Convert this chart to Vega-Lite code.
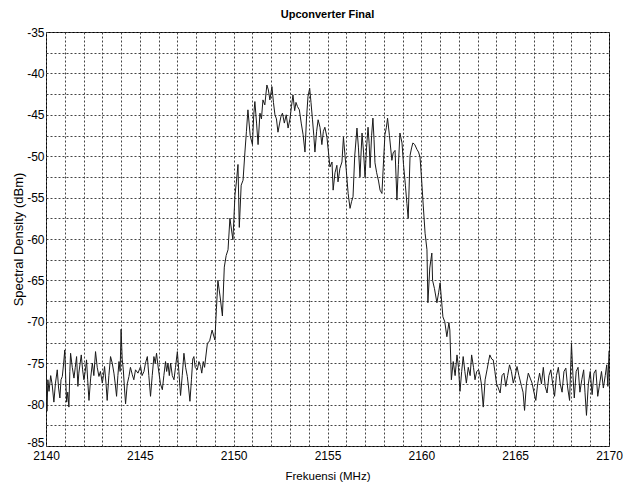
{
  "$schema": "https://vega.github.io/schema/vega-lite/v6.json",
  "autosize": {"type": "none"},
  "width": 563,
  "height": 414,
  "padding": {"left": 46, "top": 32, "right": 21, "bottom": 37},
  "background": "white",
  "config": {
    "view": {"stroke": "#000", "strokeWidth": 1},
    "font": "Liberation Sans, Arial, sans-serif"
  },
  "title": {
    "text": "Upconverter Final",
    "fontSize": 11,
    "fontWeight": "bold",
    "font": "Liberation Sans, Arial, sans-serif",
    "color": "#000",
    "anchor": "middle",
    "offset": 6
  },
  "data": {
    "values": [
      {"f": 2140.0, "p": -75.5}, {"f": 2140.05, "p": -80.8}, {"f": 2140.1, "p": -77}, {"f": 2140.16, "p": -78.4},
      {"f": 2140.25, "p": -76.5}, {"f": 2140.33, "p": -77.6}, {"f": 2140.42, "p": -79.7}, {"f": 2140.5, "p": -77.5},
      {"f": 2140.6, "p": -75.8}, {"f": 2140.67, "p": -78}, {"f": 2140.74, "p": -79.2}, {"f": 2140.8, "p": -77},
      {"f": 2140.87, "p": -76.6}, {"f": 2140.94, "p": -75}, {"f": 2141.0, "p": -73.4}, {"f": 2141.06, "p": -77.5},
      {"f": 2141.1, "p": -79.7}, {"f": 2141.16, "p": -78.5}, {"f": 2141.22, "p": -80.3}, {"f": 2141.27, "p": -76},
      {"f": 2141.31, "p": -73.8}, {"f": 2141.4, "p": -75.5}, {"f": 2141.49, "p": -76.8}, {"f": 2141.56, "p": -75.5},
      {"f": 2141.63, "p": -74.2}, {"f": 2141.7, "p": -77.8}, {"f": 2141.75, "p": -76.2}, {"f": 2141.82, "p": -75},
      {"f": 2141.88, "p": -74}, {"f": 2141.95, "p": -75.8}, {"f": 2142.02, "p": -77}, {"f": 2142.09, "p": -76},
      {"f": 2142.16, "p": -74.6}, {"f": 2142.22, "p": -77}, {"f": 2142.29, "p": -79.5}, {"f": 2142.38, "p": -76.8},
      {"f": 2142.47, "p": -75}, {"f": 2142.55, "p": -76.5}, {"f": 2142.64, "p": -73.6}, {"f": 2142.73, "p": -75.5},
      {"f": 2142.82, "p": -76.6}, {"f": 2142.9, "p": -76}, {"f": 2143.0, "p": -77.4}, {"f": 2143.06, "p": -76.5},
      {"f": 2143.12, "p": -75.4}, {"f": 2143.2, "p": -77.5}, {"f": 2143.26, "p": -79.5}, {"f": 2143.35, "p": -76.5},
      {"f": 2143.44, "p": -74.2}, {"f": 2143.53, "p": -75}, {"f": 2143.62, "p": -76.2}, {"f": 2143.69, "p": -77.5},
      {"f": 2143.76, "p": -79}, {"f": 2143.83, "p": -76.5}, {"f": 2143.89, "p": -74.8}, {"f": 2143.95, "p": -76},
      {"f": 2144.0, "p": -70.9}, {"f": 2144.06, "p": -74.5}, {"f": 2144.12, "p": -75.8}, {"f": 2144.18, "p": -78},
      {"f": 2144.24, "p": -79.9}, {"f": 2144.33, "p": -77.5}, {"f": 2144.42, "p": -76.6}, {"f": 2144.5, "p": -75.5},
      {"f": 2144.6, "p": -76.4}, {"f": 2144.68, "p": -77}, {"f": 2144.77, "p": -75.8}, {"f": 2144.9, "p": -76.2},
      {"f": 2145.04, "p": -75.4}, {"f": 2145.12, "p": -76.5}, {"f": 2145.22, "p": -76}, {"f": 2145.3, "p": -75},
      {"f": 2145.4, "p": -74.2}, {"f": 2145.48, "p": -76.5}, {"f": 2145.57, "p": -79}, {"f": 2145.66, "p": -76.5},
      {"f": 2145.75, "p": -74.2}, {"f": 2145.82, "p": -75}, {"f": 2145.89, "p": -73.8}, {"f": 2145.95, "p": -75},
      {"f": 2146.02, "p": -76.2}, {"f": 2146.1, "p": -77.5}, {"f": 2146.2, "p": -78.2}, {"f": 2146.28, "p": -76.5},
      {"f": 2146.37, "p": -74.8}, {"f": 2146.43, "p": -76}, {"f": 2146.5, "p": -75}, {"f": 2146.57, "p": -76.5},
      {"f": 2146.64, "p": -75}, {"f": 2146.73, "p": -76.5}, {"f": 2146.82, "p": -77}, {"f": 2146.9, "p": -75.5},
      {"f": 2147.0, "p": -73.6}, {"f": 2147.08, "p": -76}, {"f": 2147.17, "p": -78.9}, {"f": 2147.26, "p": -76.5},
      {"f": 2147.35, "p": -73.8}, {"f": 2147.44, "p": -75.5}, {"f": 2147.53, "p": -76.6}, {"f": 2147.6, "p": -78},
      {"f": 2147.67, "p": -79.6}, {"f": 2147.75, "p": -77}, {"f": 2147.82, "p": -74.5}, {"f": 2147.88, "p": -74.2},
      {"f": 2147.95, "p": -75.5}, {"f": 2148.06, "p": -75.8}, {"f": 2148.15, "p": -74.8}, {"f": 2148.24, "p": -75.4},
      {"f": 2148.3, "p": -76.2}, {"f": 2148.38, "p": -74.8}, {"f": 2148.45, "p": -75.5}, {"f": 2148.5, "p": -74.5},
      {"f": 2148.6, "p": -72.6}, {"f": 2148.72, "p": -72.3}, {"f": 2148.85, "p": -71}, {"f": 2149.0, "p": -72.2},
      {"f": 2149.08, "p": -68.5}, {"f": 2149.16, "p": -65}, {"f": 2149.28, "p": -67}, {"f": 2149.4, "p": -69.3},
      {"f": 2149.5, "p": -63.4}, {"f": 2149.6, "p": -62}, {"f": 2149.7, "p": -61.3}, {"f": 2149.8, "p": -57.5},
      {"f": 2149.88, "p": -58.8}, {"f": 2149.96, "p": -60.1}, {"f": 2150.07, "p": -54.7}, {"f": 2150.15, "p": -53},
      {"f": 2150.23, "p": -51}, {"f": 2150.3, "p": -58.6}, {"f": 2150.4, "p": -53.5}, {"f": 2150.5, "p": -52.9},
      {"f": 2150.6, "p": -49.5}, {"f": 2150.68, "p": -47}, {"f": 2150.76, "p": -44.4}, {"f": 2150.88, "p": -47.5},
      {"f": 2151.0, "p": -48.6}, {"f": 2151.07, "p": -45}, {"f": 2151.13, "p": -43.4}, {"f": 2151.22, "p": -46},
      {"f": 2151.3, "p": -48.6}, {"f": 2151.4, "p": -44.8}, {"f": 2151.48, "p": -45.5}, {"f": 2151.56, "p": -43.2},
      {"f": 2151.66, "p": -43.8}, {"f": 2151.77, "p": -41.4}, {"f": 2151.85, "p": -42}, {"f": 2151.93, "p": -43.2},
      {"f": 2152.04, "p": -41.6}, {"f": 2152.12, "p": -43.5}, {"f": 2152.2, "p": -45}, {"f": 2152.28, "p": -45.5},
      {"f": 2152.36, "p": -47.1}, {"f": 2152.45, "p": -46}, {"f": 2152.52, "p": -45.2}, {"f": 2152.6, "p": -44.8},
      {"f": 2152.7, "p": -46}, {"f": 2152.8, "p": -45}, {"f": 2152.9, "p": -46.6}, {"f": 2153.0, "p": -45.5},
      {"f": 2153.08, "p": -44}, {"f": 2153.16, "p": -42.6}, {"f": 2153.25, "p": -44.5}, {"f": 2153.32, "p": -43.5},
      {"f": 2153.4, "p": -44}, {"f": 2153.5, "p": -44.4}, {"f": 2153.6, "p": -46}, {"f": 2153.7, "p": -47.4},
      {"f": 2153.8, "p": -49.5}, {"f": 2153.88, "p": -45.5}, {"f": 2153.96, "p": -42.8}, {"f": 2154.05, "p": -41.8},
      {"f": 2154.12, "p": -43.5}, {"f": 2154.2, "p": -45.6}, {"f": 2154.27, "p": -47.5}, {"f": 2154.33, "p": -49.5},
      {"f": 2154.42, "p": -47}, {"f": 2154.5, "p": -45.6}, {"f": 2154.6, "p": -46.5}, {"f": 2154.7, "p": -48.6},
      {"f": 2154.78, "p": -47}, {"f": 2154.86, "p": -46.5}, {"f": 2154.97, "p": -47.7}, {"f": 2155.05, "p": -49.5},
      {"f": 2155.13, "p": -51.3}, {"f": 2155.24, "p": -50.7}, {"f": 2155.3, "p": -54.1}, {"f": 2155.4, "p": -52},
      {"f": 2155.5, "p": -51.1}, {"f": 2155.56, "p": -53.1}, {"f": 2155.66, "p": -51.5}, {"f": 2155.77, "p": -50.7},
      {"f": 2155.85, "p": -47.7}, {"f": 2156.0, "p": -51.7}, {"f": 2156.1, "p": -54.5}, {"f": 2156.2, "p": -56.3},
      {"f": 2156.28, "p": -55.5}, {"f": 2156.36, "p": -54.9}, {"f": 2156.45, "p": -50}, {"f": 2156.57, "p": -46.6},
      {"f": 2156.65, "p": -49}, {"f": 2156.73, "p": -52.5}, {"f": 2156.84, "p": -47.2}, {"f": 2156.92, "p": -49.5},
      {"f": 2157.0, "p": -52.5}, {"f": 2157.08, "p": -49}, {"f": 2157.16, "p": -46.5}, {"f": 2157.22, "p": -48.5},
      {"f": 2157.27, "p": -51.4}, {"f": 2157.35, "p": -47.5}, {"f": 2157.42, "p": -45.4}, {"f": 2157.48, "p": -48},
      {"f": 2157.53, "p": -50.8}, {"f": 2157.62, "p": -52}, {"f": 2157.72, "p": -53}, {"f": 2157.8, "p": -54.1},
      {"f": 2157.9, "p": -54.5}, {"f": 2158.0, "p": -50}, {"f": 2158.06, "p": -47.4}, {"f": 2158.14, "p": -46.5},
      {"f": 2158.2, "p": -45.4}, {"f": 2158.3, "p": -47.5}, {"f": 2158.43, "p": -50.5}, {"f": 2158.5, "p": -49.6},
      {"f": 2158.6, "p": -49.3}, {"f": 2158.7, "p": -55.3}, {"f": 2158.78, "p": -51}, {"f": 2158.86, "p": -47.2},
      {"f": 2158.97, "p": -48.4}, {"f": 2159.05, "p": -51}, {"f": 2159.15, "p": -53.5}, {"f": 2159.23, "p": -55.7},
      {"f": 2159.3, "p": -57.5}, {"f": 2159.4, "p": -49.9}, {"f": 2159.48, "p": -49}, {"f": 2159.55, "p": -48.4},
      {"f": 2159.65, "p": -48.6}, {"f": 2159.77, "p": -49.2}, {"f": 2159.85, "p": -49.5}, {"f": 2159.93, "p": -50.1},
      {"f": 2160.02, "p": -53}, {"f": 2160.1, "p": -55.9}, {"f": 2160.2, "p": -59.3}, {"f": 2160.3, "p": -61.3},
      {"f": 2160.35, "p": -67.7}, {"f": 2160.45, "p": -63.5}, {"f": 2160.56, "p": -61.7}, {"f": 2160.6, "p": -65},
      {"f": 2160.7, "p": -66}, {"f": 2160.83, "p": -67.7}, {"f": 2160.92, "p": -66.5}, {"f": 2161.0, "p": -65.3},
      {"f": 2161.08, "p": -67.5}, {"f": 2161.15, "p": -69.4}, {"f": 2161.25, "p": -70}, {"f": 2161.36, "p": -71.8},
      {"f": 2161.47, "p": -70.1}, {"f": 2161.52, "p": -71}, {"f": 2161.6, "p": -77}, {"f": 2161.7, "p": -74.8},
      {"f": 2161.8, "p": -76.5}, {"f": 2161.9, "p": -74}, {"f": 2161.98, "p": -75.5}, {"f": 2162.06, "p": -78.4},
      {"f": 2162.15, "p": -76}, {"f": 2162.23, "p": -74.2}, {"f": 2162.32, "p": -76}, {"f": 2162.4, "p": -77.4},
      {"f": 2162.5, "p": -75.5}, {"f": 2162.6, "p": -76.5}, {"f": 2162.68, "p": -74}, {"f": 2162.78, "p": -75.5},
      {"f": 2162.86, "p": -77}, {"f": 2162.95, "p": -76}, {"f": 2163.05, "p": -75.8}, {"f": 2163.12, "p": -76.4},
      {"f": 2163.2, "p": -77.5}, {"f": 2163.3, "p": -80.3}, {"f": 2163.4, "p": -77}, {"f": 2163.5, "p": -75.8},
      {"f": 2163.58, "p": -74.8}, {"f": 2163.65, "p": -74}, {"f": 2163.75, "p": -74.5}, {"f": 2163.83, "p": -74.6},
      {"f": 2163.92, "p": -76}, {"f": 2164.0, "p": -77.4}, {"f": 2164.1, "p": -78}, {"f": 2164.2, "p": -78.6},
      {"f": 2164.3, "p": -76.5}, {"f": 2164.4, "p": -76.2}, {"f": 2164.5, "p": -77.8}, {"f": 2164.6, "p": -76.5},
      {"f": 2164.7, "p": -75.2}, {"f": 2164.8, "p": -76}, {"f": 2164.9, "p": -77.4}, {"f": 2165.0, "p": -76.5},
      {"f": 2165.1, "p": -75.4}, {"f": 2165.2, "p": -76.5}, {"f": 2165.34, "p": -77.8}, {"f": 2165.42, "p": -78.5},
      {"f": 2165.5, "p": -80.7}, {"f": 2165.6, "p": -77.5}, {"f": 2165.7, "p": -76.2}, {"f": 2165.8, "p": -76.8},
      {"f": 2165.9, "p": -77.4}, {"f": 2166.0, "p": -78.5}, {"f": 2166.1, "p": -79.5}, {"f": 2166.2, "p": -77.5},
      {"f": 2166.3, "p": -76.2}, {"f": 2166.4, "p": -77.5}, {"f": 2166.5, "p": -75.5}, {"f": 2166.6, "p": -77.8},
      {"f": 2166.7, "p": -78.6}, {"f": 2166.8, "p": -76.5}, {"f": 2166.9, "p": -75.8}, {"f": 2167.0, "p": -77.5},
      {"f": 2167.1, "p": -79}, {"f": 2167.2, "p": -76.5}, {"f": 2167.3, "p": -75.5}, {"f": 2167.4, "p": -77.5},
      {"f": 2167.5, "p": -78.5}, {"f": 2167.6, "p": -76}, {"f": 2167.7, "p": -75.6}, {"f": 2167.8, "p": -78},
      {"f": 2167.9, "p": -79.5}, {"f": 2168.0, "p": -72.6}, {"f": 2168.08, "p": -76.5}, {"f": 2168.15, "p": -79.2},
      {"f": 2168.25, "p": -76}, {"f": 2168.35, "p": -75.5}, {"f": 2168.45, "p": -78.5}, {"f": 2168.55, "p": -77},
      {"f": 2168.65, "p": -75.8}, {"f": 2168.72, "p": -78.5}, {"f": 2168.8, "p": -81.3}, {"f": 2168.9, "p": -77.5},
      {"f": 2169.0, "p": -76}, {"f": 2169.1, "p": -78.8}, {"f": 2169.2, "p": -76.2}, {"f": 2169.3, "p": -75.8},
      {"f": 2169.4, "p": -79}, {"f": 2169.5, "p": -77.5}, {"f": 2169.6, "p": -76}, {"f": 2169.7, "p": -78},
      {"f": 2169.8, "p": -76.5}, {"f": 2169.88, "p": -75.2}, {"f": 2169.94, "p": -77.8}, {"f": 2170.0, "p": -73.5}
    ]
  },
  "mark": {"type": "line", "color": "#1a1a1a", "strokeWidth": 1, "clip": true},
  "encoding": {
    "x": {
      "field": "f",
      "type": "quantitative",
      "scale": {"domain": [2140, 2170], "nice": false, "zero": false},
      "axis": {
        "title": "Frekuensi (MHz)",
        "values": [2140,2141,2142,2143,2144,2145,2146,2147,2148,2149,2150,2151,2152,2153,2154,2155,2156,2157,2158,2159,2160,2161,2162,2163,2164,2165,2166,2167,2168,2169,2170],
        "labelExpr": "datum.value % 5 === 0 ? '' + datum.value : ''",
        "ticks": false,
        "domain": false,
        "grid": true,
        "gridColor": "#444",
        "gridDash": [2, 2],
        "gridWidth": 1,
        "gridOpacity": 1,
        "labelFontSize": 12,
        "labelColor": "#000",
        "labelPadding": 4,
        "labelFlush": false,
        "titleFontSize": 11.5,
        "titleFontWeight": "normal",
        "titleColor": "#000",
        "titlePadding": 9
      }
    },
    "y": {
      "field": "p",
      "type": "quantitative",
      "scale": {"domain": [-85, -35], "nice": false, "zero": false},
      "axis": {
        "title": "Spectral Density (dBm)",
        "values": [-85,-82.5,-80,-77.5,-75,-72.5,-70,-67.5,-65,-62.5,-60,-57.5,-55,-52.5,-50,-47.5,-45,-42.5,-40,-37.5,-35],
        "labelExpr": "datum.value % 5 === 0 ? '' + datum.value : ''",
        "labelBaseline": {"condition": {"test": "datum.value === -85", "value": "alphabetic"}, "value": "middle"},
        "ticks": false,
        "domain": false,
        "grid": true,
        "gridColor": "#444",
        "gridDash": [2, 2],
        "gridWidth": 1,
        "gridOpacity": 1,
        "labelFontSize": 12,
        "labelColor": "#000",
        "labelPadding": 2,
        "labelFlush": false,
        "titleFontSize": 13,
        "titleFontWeight": "normal",
        "titleColor": "#000",
        "titlePadding": 1
      }
    }
  }
}
